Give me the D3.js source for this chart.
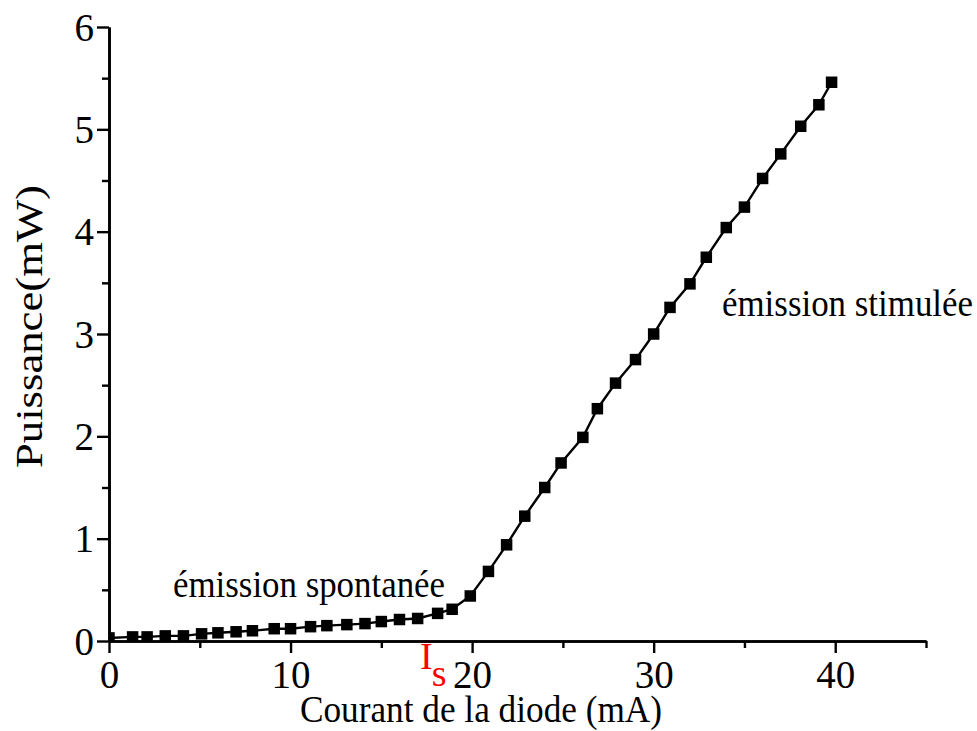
<!DOCTYPE html>
<html>
<head>
<meta charset="utf-8">
<script src="https://cdn.jsdelivr.net/npm/d3@7"></script>
<style>
  html, body { margin: 0; padding: 0; background: #fff; }
  svg { display: block; font-family: 'Liberation Serif'; }
</style>
</head>
<body>
<svg id="chart" width="977" height="731" font-family="Liberation Serif"></svg>
<script>
// ---- data ----
const current = [0, 1.3, 2.1, 3.1, 4.1, 5.1, 6.0, 7.0, 7.9, 9.1, 10.0, 11.1, 12.0, 13.1, 14.1, 15.0, 16.0, 17.0, 18.1, 18.9, 19.9,
                 20.9, 21.9, 22.9, 24.0, 24.9, 26.1, 26.9, 27.9, 29.0, 30.0, 30.9, 32.0, 32.9, 34.0, 35.0, 36.0, 37.0, 38.1, 39.1, 39.8];
const power   = [0.03, 0.04, 0.04, 0.05, 0.05, 0.07, 0.08, 0.09, 0.10, 0.12, 0.12, 0.14, 0.15, 0.16, 0.17, 0.19, 0.21, 0.22, 0.27, 0.31, 0.44,
                 0.68, 0.94, 1.22, 1.50, 1.74, 1.99, 2.27, 2.52, 2.75, 3.00, 3.26, 3.49, 3.75, 4.04, 4.24, 4.52, 4.76, 5.03, 5.24, 5.46];
const xMajorTicks = [0, 10, 20, 30, 40];
const xMinorTicks = [5, 15, 25, 35, 45];
const yMajorTicks = [0, 1, 2, 3, 4, 5, 6];
const yMinorTicks = [0.5, 1.5, 2.5, 3.5, 4.5, 5.5];
const xTitle = "Courant de la diode (mA)";
const yTitle = "Puissance(mW)";
const labelSpont = "émission spontanée";
const labelStim = "émission stimulée";

const FONT = "'Liberation Serif'";

const svg = d3.select("#chart");
const x = d3.scaleLinear().domain([0, 45]).range([109, 926]);
const y = d3.scaleLinear().domain([0, 6]).range([641, 27]);

const points = current.map((c, i) => ({ c, p: power[i] }));

function serif(sel) {
  return sel.attr("font-family", "Liberation Serif").style("font-family", FONT);
}

// clip to plot area
svg.append("defs").append("clipPath").attr("id", "plotclip")
  .append("rect").attr("x", x(0)).attr("y", 0).attr("width", x(45) - x(0) + 20).attr("height", y(0));

const plot = svg.append("g").attr("clip-path", "url(#plotclip)");

// line
plot.append("path")
  .datum(points)
  .attr("fill", "none")
  .attr("stroke", "#000")
  .attr("stroke-width", 2.4)
  .attr("d", d3.line().x(d => x(d.c)).y(d => y(d.p)));

// square markers
const S = 11.5;
plot.selectAll("rect.pt").data(points).join("rect")
  .attr("class", "pt")
  .attr("x", d => x(d.c) - S / 2)
  .attr("y", d => y(d.p) - S / 2)
  .attr("width", S).attr("height", S)
  .attr("fill", "#000");

// axes
function styleAxis(g) {
  serif(g);
  g.select(".domain").attr("stroke", "#000").attr("stroke-width", 2.6);
  g.selectAll(".tick line").attr("stroke", "#000").attr("stroke-width", 2.4);
}

// minor ticks
svg.append("g").attr("transform", `translate(0,${y(0)})`)
  .call(d3.axisBottom(x).tickValues(xMinorTicks).tickSize(7).tickSizeOuter(0).tickFormat(""))
  .call(styleAxis);
svg.append("g").attr("transform", `translate(${x(0)},0)`)
  .call(d3.axisLeft(y).tickValues(yMinorTicks).tickSize(7).tickSizeOuter(0).tickFormat(""))
  .call(styleAxis);

const xAxis = svg.append("g").attr("transform", `translate(0,${y(0)})`)
  .call(d3.axisBottom(x).tickValues(xMajorTicks).tickSize(12).tickSizeOuter(0).tickPadding(6).tickFormat(d3.format("d")))
  .call(styleAxis);
serif(xAxis.selectAll(".tick text"))
  .attr("font-size", 39).attr("fill", "#000")
  .attr("dy", null).attr("y", 47);

const yAxis = svg.append("g").attr("transform", `translate(${x(0)},0)`)
  .call(d3.axisLeft(y).tickValues(yMajorTicks).tickSize(12).tickSizeOuter(0).tickPadding(4).tickFormat(d3.format("d")))
  .call(styleAxis);
serif(yAxis.selectAll(".tick text"))
  .attr("font-size", 39).attr("fill", "#000")
  .attr("dy", "0.34em").attr("x", -15);

// axis titles
serif(svg.append("text"))
  .attr("x", 300).attr("y", 722)
  .attr("font-size", 37)
  .attr("textLength", 362).attr("lengthAdjust", "spacingAndGlyphs")
  .text(xTitle);

serif(svg.append("text"))
  .attr("transform", "translate(42,468) rotate(-90)")
  .attr("x", 0).attr("y", 0)
  .attr("font-size", 37)
  .attr("textLength", 283).attr("lengthAdjust", "spacingAndGlyphs")
  .text(yTitle);

// annotations
serif(svg.append("text"))
  .attr("x", 173).attr("y", 597)
  .attr("font-size", 37)
  .attr("textLength", 272).attr("lengthAdjust", "spacingAndGlyphs")
  .text(labelSpont);

serif(svg.append("text"))
  .attr("x", 722).attr("y", 316)
  .attr("font-size", 37)
  .attr("textLength", 251).attr("lengthAdjust", "spacingAndGlyphs")
  .text(labelStim);

// threshold current label I_s
const is = serif(svg.append("text"))
  .attr("x", 420).attr("y", 669)
  .attr("font-size", 38)
  .style("fill", "#ff0000");
is.append("tspan").text("I");
is.append("tspan").attr("dy", 17).attr("dx", -1).text("s");
</script>
</body>
</html>
